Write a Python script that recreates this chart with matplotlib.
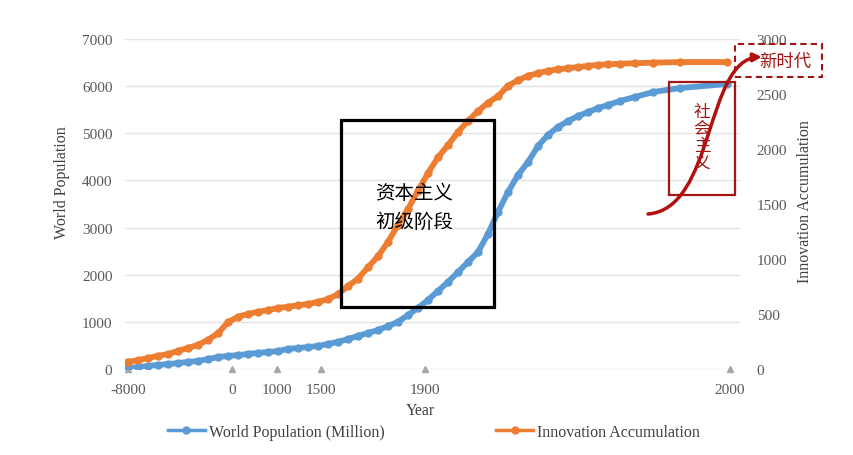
import numpy as np
import matplotlib
matplotlib.use("Agg")
import matplotlib.pyplot as plt
from matplotlib.patches import Rectangle, FancyArrowPatch
from matplotlib.path import Path
from matplotlib.lines import Line2D

plt.rcParams['font.family'] = ['Liberation Serif', 'Noto Sans CJK SC']

# position along the (non-linear) year axis, 0 = -8000, 602 = 2000
positions = ([0, 10, 20, 30, 40, 50, 60, 70, 80, 90,
              100, 110, 120, 130, 140, 150, 160, 170, 180, 190,
              200, 210, 220, 230, 240, 250, 260, 270, 280, 290,
              300, 310, 320, 330, 340, 350, 360, 370]
             + [380, 390, 400, 410, 420, 430, 440, 450, 460]
             + [470, 480, 492, 507, 525, 552, 599])

world_population = ([20, 40, 65, 85, 105, 125, 150, 170, 210, 255,
                     275, 295, 320, 340, 360, 380, 425, 445, 465, 490,
                     530, 575, 635, 700, 765, 825, 910, 1000, 1145, 1295,
                     1465, 1655, 1845, 2055, 2270, 2480, 2865, 3330]
                    + [3755, 4115, 4390, 4730, 4965, 5135, 5260, 5365, 5450]
                    + [5535, 5600, 5685, 5770, 5875, 5960, 6045])

innovation = ([65, 80, 100, 120, 135, 165, 190, 220, 265, 325,
               425, 475, 500, 520, 535, 555, 565, 580, 590, 610,
               635, 680, 755, 820, 925, 1025, 1155, 1310, 1455, 1620,
               1780, 1925, 2035, 2155, 2255, 2345, 2420, 2480]
              + [2575, 2625, 2665, 2690, 2710, 2725, 2735, 2745, 2755]
              + [2765, 2770, 2775, 2780, 2785, 2790, 2790])

year_ticks = [0, 104, 149, 193, 297, 602]
year_labels = ['-8000', '0', '1000', '1500', '1900', '2000']

BLUE = '#5b9bd5'
ORANGE = '#ed7d31'
RED = '#a31515'
GRAY = '#595959'

W, H = 854, 456
fig = plt.figure(figsize=(W / 100, H / 100), dpi=100)
ax = fig.add_axes([125 / W, 1 - 370 / H, 615 / W, 330 / H])
ax2 = ax.twinx()


def px(x, y):
    return (x / W, 1 - y / H)


ax.set_xlim(-3, 612)
ax.set_ylim(0, 7000)
ax2.set_ylim(0, 3000)
ax.set_yticks(range(0, 7001, 1000))
ax2.set_yticks(range(0, 3001, 500))
ax.yaxis.grid(True, color='#e3e3e3', lw=1)
ax.set_axisbelow(True)
for a in (ax, ax2):
    for s in a.spines.values():
        s.set_visible(False)
ax.tick_params(axis='y', length=0, pad=9, labelsize=11, labelcolor=GRAY)
ax2.tick_params(axis='y', length=0, pad=12, labelsize=11, labelcolor=GRAY)
ax.set_xticks(year_ticks)
ax.set_xticklabels(year_labels)
ax.tick_params(axis='x', length=0, pad=10, labelsize=11, labelcolor=GRAY)

# gray triangles on the baseline at the labelled years
ax.plot(year_ticks, [0] * len(year_ticks), '^', color='#a6a6a6', ms=5,
        clip_on=False, zorder=1)

ax.plot(positions, world_population, '-o', color=BLUE, lw=4.2, ms=5, zorder=3)
ax2.plot(positions, innovation, '-o', color=ORANGE, lw=4.2, ms=5, zorder=3)

fig.text(62 / W, 1 - 183 / H, 'World Population', rotation=90, ha='center',
         va='center', fontsize=11.5, color='#404040')
fig.text(805 / W, 1 - 202 / H, 'Innovation Accumulation', rotation=90,
         ha='center', va='center', fontsize=11.5, color='#404040')
fig.text(420 / W, 1 - 411 / H, 'Year', ha='center', va='center',
         fontsize=11.5, color='#404040')

handles = [Line2D([], [], color=BLUE, lw=2.5, marker='o', ms=5,
                  label='World Population (Million)'),
           Line2D([], [], color=ORANGE, lw=2.5, marker='o', ms=5,
                  label='Innovation Accumulation')]
fig.legend(handles=handles, loc='center', bbox_to_anchor=px(434, 433),
           ncol=2, frameon=False, fontsize=11.5, handlelength=2.3,
           handletextpad=0.25, columnspacing=7, labelcolor='#404040')

# annotation boxes
fig.patches.append(Rectangle(px(341, 308), 153 / W, 187 / H, fill=False,
                             ec='black', lw=2.3, transform=fig.transFigure,
                             zorder=5))
fig.text(414 / W, 1 - 208 / H, '资本主义\n初级阶段', ha='center', va='center',
         fontsize=14, linespacing=1.5, family=['Noto Sans CJK SC'],
         color='black')

fig.patches.append(Rectangle(px(669, 196), 66 / W, 113 / H, fill=False,
                             ec=RED, lw=1.6, transform=fig.transFigure,
                             zorder=5))
fig.text(702 / W, 1 - 138 / H, '社\n会\n主\n义', ha='center', va='center',
         fontsize=12, linespacing=1.0, family=['Noto Sans CJK SC'],
         color=RED)

fig.patches.append(Rectangle(px(735, 78), 87 / W, 33 / H, fill=False,
                             ec=RED, lw=1.5, ls=(0, (3, 2)),
                             transform=fig.transFigure, zorder=5))
fig.text(785 / W, 1 - 62 / H, '新时代', ha='center', va='center',
         fontsize=12.5, family=['Noto Sans CJK SC'], color=RED)

curve = Path([px(648, 215), px(715, 210), px(705, 60), px(762, 58)],
             [Path.MOVETO, Path.CURVE4, Path.CURVE4, Path.CURVE4])
fig.patches.append(FancyArrowPatch(path=curve, arrowstyle='-|>',
                                   mutation_scale=12, color='#b01010',
                                   lw=2.5, transform=fig.transFigure,
                                   zorder=6))

fig.savefig('out.png', dpi=100)
